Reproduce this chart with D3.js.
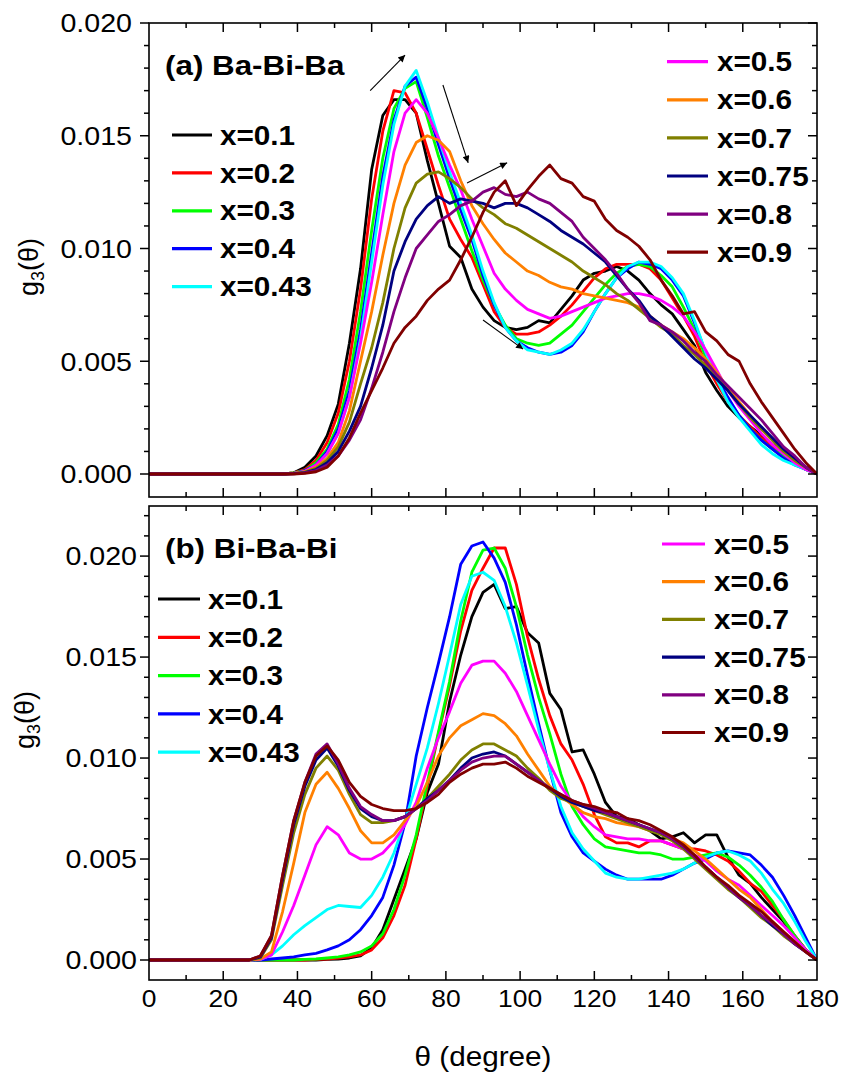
<!DOCTYPE html>
<html><head><meta charset="utf-8">
<script src="https://cdn.jsdelivr.net/npm/d3@7"></script>
<style>body{margin:0;background:#fff} text{font-family:"Liberation Sans",Arial,Helvetica,sans-serif;fill:#000}</style>
</head><body><svg id="c" width="845" height="1077"></svg>
<script>
// values are in units of 1e-4
const UNIT = 1e-4;
const theta = [0,27,30,33,36,39,42,45,48,51,54,57,60,63,66,69,72,75,78,81,84,87,90,93,96,99,102,105,108,111,114,117,120,123,126,129,132,135,138,141,144,147,150,153,156,159,162,165,168,171,174,177,180];
const seriesNames = ["x=0.1","x=0.2","x=0.3","x=0.4","x=0.43","x=0.5","x=0.6","x=0.7","x=0.75","x=0.8","x=0.9"];
const seriesColors = ["#000000","#ff0000","#00ff00","#0000ff","#00ffff","#ff00ff","#ff8000","#808000","#000080","#800080","#800000"];

// panel (a) Ba-Bi-Ba
const a_x01 = [0,0,0,0, 0,0.5,3,8,17,31,58,91,135,159, 166,166,160,139,120,101,96,82,74,68, 65,64,65,68,67,73,79,86,89,90, 92,90,86,80,75,71,64,57,45,37, 30,25,21,17,13,10,6,3,0];
const a_x02 = [0,0,0,0, 0,0.5,2,6,14,27,50,82,122,152, 170,169,160,144,128,113,104,96,84,72, 65,62,62,63,66,70,75,81,87,91, 93,93,93,91,86,78,70,61,49,40, 32,26,21,16,12,9,5,2,0];
const a_x03 = [0,0,0,0, 0,0.5,1.5,5,11,22,42,72,108,140, 162,171,174,158,141,127,113,99,86,75, 66,60,58,57,58,62,66,72,78,84, 89,92,93,92,88,83,74,64,52,42, 33,26,20,15,11,8,5,2,0];
const a_x04 = [0,0,0,0, 0,0.3,1.5,4,10,20,37,64,98,132, 157,172,176,162,146,131,117,104,88,75, 65,59,56,54,53,54,57,63,72,80, 87,91,94,93,91,86,79,67,54,43, 34,26,20,15,11,7,4,2,0];
const a_x043 = [0,0,0,0, 0,0.3,1,3.5,9,18,34,60,94,128, 155,172,179,165,149,134,120,106,90,76, 65,59,55,54,53,55,58,64,72,80, 87,92,94,94,92,87,80,68,54,42, 32,25,19,13,9,6,4,2,0];
const a_x05 = [0,0,0,0, 0,0.3,1.2,4,9,18,34,58,85,115, 143,160,166,160,149,137,126,113,101,89, 82,77,73,71,69,70,72,74,76,78, 79,80,80,79,77,74,70,63,55,46, 37,30,24,18,13,9,5,2,0];
const a_x06 = [0,0,0,0, 0,0.3,1,3,7,14,28,50,72,97, 120,137,147,150,148,143,130,119,111,104, 98,94,90,88,85,83,82,80,79,78, 77,76,74,70,66,63,60,56,51,45, 38,32,26,20,15,10,6,3,0];
const a_x07 = [0,0,0,0, 0,0.2,0.8,2.5,6,12,23,40,56,76, 100,118,129,133,134,131,127,122,118,115, 111,109,106,103,100,97,94,90,87,84, 80,77,73,69,65,62,57,53,48,43, 37,31,25,20,15,10,6,3,0];
const a_x075 = [0,0,0,0, 0,0.2,0.6,2,5,10,19,30,47,66, 90,103,113,119,123,120,122,121,120,118, 120,120,118,115,112,108,105,102,98,94, 88,82,77,70,66,61,56,51,47,42, 37,31,26,21,16,11,7,3,0];
const a_x08 = [0,0,0,0, 0,0.1,0.5,1.5,4,8,15,24,38,54, 72,87,100,106,112,115,119,121,125,127, 124,123,125,122,120,116,112,105,100,95, 89,82,76,68,66,63,59,54,50,44, 39,34,29,24,18,12,8,3,0];
const a_x09 = [0,0,0,0, 0,0,0.3,1,3,8,16,27,37,47, 58,65,70,77,82,86,95,105,116,125, 130,119,126,132,137,131,129,123,121,113, 108,105,101,95,86,79,71,72,63,59, 53,50,40,32,25,18,11,5,0];

// panel (b) Bi-Ba-Bi
const b_x01 = [0,0,0,0, 0,0,0,0,0.3,0.5,1,2,6,15, 30,45,60,83,97,128,151,170,182,186, 174,175,162,157,132,124,103,104,92,78, 71,70,67,64,60,61,63,58,62,62, 51,42,38,31,25,19,12,5,0];
const b_x02 = [0,0,0,0, 0,0,0,0.3,0.5,1,1.5,2.5,5,11, 22,37,60,86,112,136,163,183,194,204, 204,186,160,139,121,107,99,87,72,61, 58,58,56,59,59,57,55,55,54,52, 49,44,38,34,27,20,12,5,0];
const b_x03 = [0,0,0,0, 0,0,0.3,0.5,1,1.5,2.5,4,7,13, 25,42,62,88,113,138,168,192,203,204, 194,175,151,130,112,92,76,67,60,56, 55,54,53,53,52,50,50,51,52,53, 51,47,42,36,29,20,12,5,0];
const b_x04 = [0,0,0,0.5, 1,1.5,2.5,3.3,5,7,10,15,22,31, 47,68,101,125,147,170,196,205,207,199, 187,166,141,117,94,73,61,53,49,45, 42,40,40,40,40,42,45,48,50,53, 54,53,52,47,41,32,22,11,0];
const b_x043 = [0,0,0.3,2.5, 7,12.5,17,21,25,27,26.5,26,32,41, 53,69,87,105,127,151,176,190,192,188, 175,157,136,114,94,76,63,55,49,43, 41,40,40,41,42,43,45,48,51,53, 54,52,49,43,35,28,19,9,0];
const b_x05 = [0,0,0.3,2.5, 14,27,42,57,66,62,53,50,50,53, 59,67,78,95,110,123,137,146,148,148, 142,133,121,109,97,86,78,71,66,62, 61,60,60,59,59,57,55,52,49,44, 40,37,32,27,22,17,11,5,0];
const b_x06 = [0,0,0.5,4, 24,48,73,87,93,85,75,64,58,58, 62,69,76,88,101,110,116,119,122,121, 117,111,102,94,86,81,77,73,71,70, 68,67,66,64,63,60,58,54,50,45, 40,35,31,25,19,14,9,4,0];
const b_x07 = [0,0,1,10, 37,63,82,95,101,94,82,72,68,68, 69,71,75,80,86,92,99,104,107,107, 104,101,95,90,84,80,78,76,74,72, 70,68,66,64,62,59,55,50,45,40, 35,31,26,21,17,12,8,4,0];
const b_x075 = [0,0,1.5,11, 40,67,86,99,105,96,84,75,71,69, 69,71,75,80,84,89,95,100,102,103, 101,97,93,89,85,81,78,76,74,73, 71,69,67,65,63,60,56,51,46,41, 36,31,27,22,17,13,8,4,0];
const b_x08 = [0,0,2,12, 42,69,88,102,107,97,85,76,72,69, 69,71,75,79,84,89,94,98,100,101, 101,97,93,89,85,82,79,77,75,73, 71,69,67,65,63,60,56,51,46,41, 36,31,27,22,18,13,8,4,0];
const b_x09 = [0,0,2,12, 42,69,88,101,106,99,88,81,77,75, 74,74,75,78,82,88,92,95,97,97, 98,95,91,88,85,82,79,77,76,74, 73,70,69,67,64,61,57,52,46,41, 37,32,28,24,19,14,9,4,0];

const xTicks = [0,20,40,60,80,100,120,140,160,180];
const yTicks = [0,0.005,0.010,0.015,0.020];
// arrow annotations in panel (a): [theta, value(1e-4)] start -> end
const arrowStart = [[59.6,170],[79.2,172.5],[85.7,129],[90,68.3]];
const arrowEnd   = [[69,185.8],[86,138],[96.5,138],[100.8,55.4]];

const svg = d3.select("#c");
const defs = svg.append("defs");
defs.append("marker").attr("id","ah").attr("viewBox","0 0 10 10").attr("refX",10).attr("refY",5)
  .attr("markerWidth",10).attr("markerHeight",7).attr("markerUnits","userSpaceOnUse").attr("orient","auto")
  .append("path").attr("d","M0,0L10,5L0,10z").attr("fill","#000");

const x = d3.scaleLinear().domain([0,180]).range([149,817]);

function txt(g, px, py, s, size, weight, anchor, sx){
  return g.append("text").attr("transform",`translate(${px},${py}) scale(${sx},1)`)
    .attr("font-size",size).attr("font-weight",weight).attr("text-anchor",anchor).text(s);
}

const panels = [
  {id:"a", top:23, bottom:497, dom:[-0.00102,0.020], series:[a_x01,a_x02,a_x03,a_x04,a_x043,a_x05,a_x06,a_x07,a_x075,a_x08,a_x09],
   title:"(a) Ba-Bi-Ba", titleY:75, labelEnd:132, ylabY:267, ylabX:38,
   legL:{x1:172,x2:212,tx:220,y0:135,dy:37.9}, legR:{x1:667,x2:708,tx:717,y0:61.7,dy:38.1}},
  {id:"b", top:506, bottom:980, dom:[-0.00099,0.02248], series:[b_x01,b_x02,b_x03,b_x04,b_x043,b_x05,b_x06,b_x07,b_x075,b_x08,b_x09],
   title:"(b) Bi-Ba-Bi", titleY:558, labelEnd:137, ylabY:720, ylabX:34,
   legL:{x1:158,x2:200,tx:208,y0:599,dy:38.3}, legR:{x1:662,x2:705,tx:714,y0:544,dy:37.7}}
];

panels.forEach(p=>{
  const y = d3.scaleLinear().domain(p.dom).range([p.bottom,p.top]);
  const g = svg.append("g");
  defs.append("clipPath").attr("id","clip"+p.id).append("rect")
    .attr("x",149).attr("y",p.top).attr("width",668).attr("height",p.bottom-p.top);
  const line = d3.line().x((d,i)=>x(theta[i])).y(d=>y(d*UNIT));
  const lg = g.append("g").attr("clip-path",`url(#clip${p.id})`);
  p.series.forEach((s,i)=>{
    lg.append("path").attr("d",line(s)).attr("fill","none").attr("stroke",seriesColors[i])
      .attr("stroke-width",2.8).attr("stroke-linejoin","round");
  });
  g.append("rect").attr("x",149).attr("y",p.top).attr("width",668).attr("height",p.bottom-p.top)
    .attr("fill","none").attr("stroke","#000").attr("stroke-width",1.6);
  d3.range(10,180,10).forEach(t=>{
    const L = (t%20===0)?9:5;
    g.append("line").attr("x1",x(t)).attr("x2",x(t)).attr("y1",p.bottom).attr("y2",p.bottom-L).attr("stroke","#000").attr("stroke-width",1.5);
    g.append("line").attr("x1",x(t)).attr("x2",x(t)).attr("y1",p.top).attr("y2",p.top+L).attr("stroke","#000").attr("stroke-width",1.5);
  });
  const yMinor = d3.range(0,Math.floor(p.dom[1]/0.001+1e-6)+1).map(k=>k*0.001);
  yMinor.forEach((v,k)=>{
    const L = (k%5===0)?9:5;
    const yy = y(v);
    g.append("line").attr("x1",149).attr("x2",149-L).attr("y1",yy).attr("y2",yy).attr("stroke","#000").attr("stroke-width",1.5);
    g.append("line").attr("x1",817).attr("x2",817-L).attr("y1",yy).attr("y2",yy).attr("stroke","#000").attr("stroke-width",1.5);
  });
  yTicks.forEach(v=>{
    txt(g,p.labelEnd,y(v)+9.3,d3.format(".3f")(v),26,"normal","end",1.1);
  });
  const yl = g.append("text").attr("transform",`translate(${p.ylabX},${p.ylabY}) rotate(-90)`)
    .attr("font-size",27).attr("text-anchor","middle");
  yl.append("tspan").text("g");
  yl.append("tspan").attr("font-size",18).attr("dy",6).text("3");
  yl.append("tspan").attr("dy",-6).text("(θ)");
  txt(g,165,p.titleY,p.title,28,"bold","start",1.12);
  [[p.legL,0,5],[p.legR,5,11]].forEach(([L,s0,s1])=>{
    for(let i=s0;i<s1;i++){
      const yy = L.y0 + (i-s0)*L.dy;
      g.append("line").attr("x1",L.x1).attr("x2",L.x2).attr("y1",yy).attr("y2",yy)
        .attr("stroke",seriesColors[i]).attr("stroke-width",3.2);
      txt(g,L.tx,yy+9.6,seriesNames[i],27,"bold","start",1.1);
    }
  });
  if(p.id==="a"){
    arrowStart.forEach((s,i)=>{
      const e = arrowEnd[i];
      g.append("line").attr("x1",x(s[0])).attr("y1",y(s[1]*UNIT)).attr("x2",x(e[0])).attr("y2",y(e[1]*UNIT))
        .attr("stroke","#000").attr("stroke-width",1.1).attr("marker-end","url(#ah)");
    });
  }
  if(p.id==="b"){
    xTicks.forEach(t=>{ txt(g,x(t),1007,String(t),24,"normal","middle",1.1); });
  }
});
txt(svg,483,1066,"θ (degree)",27,"normal","middle",1.1);
</script></body></html>
